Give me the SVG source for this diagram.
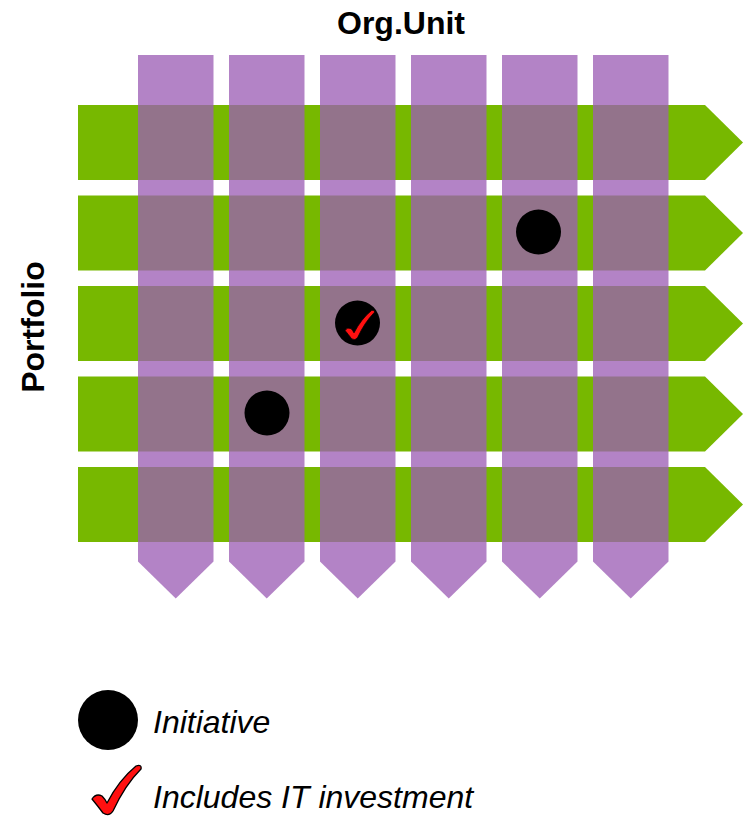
<svg xmlns="http://www.w3.org/2000/svg" xmlns:xlink="http://www.w3.org/1999/xlink" width="749" height="816" viewBox="0 0 749 816">
<style>
.row{fill:#77B800}
.col{fill:#9C5EB5;fill-opacity:0.77}
.dot{fill:#000}
.chk{fill:#FF1010;stroke:#000;stroke-width:1.3;stroke-linejoin:round}
.title{font-family:"Liberation Sans",Arial,sans-serif;font-weight:bold;font-size:32px;fill:#000}
.legend{font-family:"Liberation Sans",Arial,sans-serif;font-style:italic;font-size:32px;fill:#000}
</style>
<defs>
<polygon id="rowShape" points="0,0 627,0 665,37.5 627,75 0,75"/>
<polygon id="colShape" points="0,0 75.5,0 75.5,506.5 37.75,543.5 0,506.5"/>
<path id="check" d="M0 34 Q4 28 10 31 Q13 34 15 38 Q27 15 44 1 Q50 -1 49 4 Q33 20 21 46 Q17 52 11 48 Q5 40 0 34 Z"/>
</defs>
<rect width="749" height="816" fill="#fff"/>
<g id="rows">
<g id="row1"><use xlink:href="#rowShape" class="row" x="78" y="105"/></g>
<g id="row2"><use xlink:href="#rowShape" class="row" x="78" y="195.5"/></g>
<g id="row3"><use xlink:href="#rowShape" class="row" x="78" y="286"/></g>
<g id="row4"><use xlink:href="#rowShape" class="row" x="78" y="376.5"/></g>
<g id="row5"><use xlink:href="#rowShape" class="row" x="78" y="467"/></g>
</g>
<g id="columns">
<g id="col1"><use xlink:href="#colShape" class="col" x="138" y="55"/></g>
<g id="col2"><use xlink:href="#colShape" class="col" x="229" y="55"/></g>
<g id="col3"><use xlink:href="#colShape" class="col" x="320" y="55"/></g>
<g id="col4"><use xlink:href="#colShape" class="col" x="411" y="55"/></g>
<g id="col5"><use xlink:href="#colShape" class="col" x="502" y="55"/></g>
<g id="col6"><use xlink:href="#colShape" class="col" x="593" y="55"/></g>
</g>
<g id="initiatives">
<g id="init1"><circle class="dot" cx="538.5" cy="232" r="22.5"/></g>
<g id="init2"><circle class="dot" cx="357.5" cy="323" r="22.5"/><use xlink:href="#check" class="chk" transform="translate(345,310) scale(0.6)"/></g>
<g id="init3"><circle class="dot" cx="267" cy="413" r="22.5"/></g>
</g>
<g id="labels">
<text class="title" x="401" y="34" text-anchor="middle">Org.Unit</text>
<text class="title" transform="translate(44,327) rotate(-90)" text-anchor="middle">Portfolio</text>
</g>
<g id="legend">
<g id="legend-initiative"><circle class="dot" cx="108" cy="720" r="30"/><text class="legend" x="153" y="733">Initiative</text></g>
<g id="legend-it"><use xlink:href="#check" class="chk" transform="translate(92,765)"/><text class="legend" x="153" y="808">Includes IT investment</text></g>
</g>
</svg>
